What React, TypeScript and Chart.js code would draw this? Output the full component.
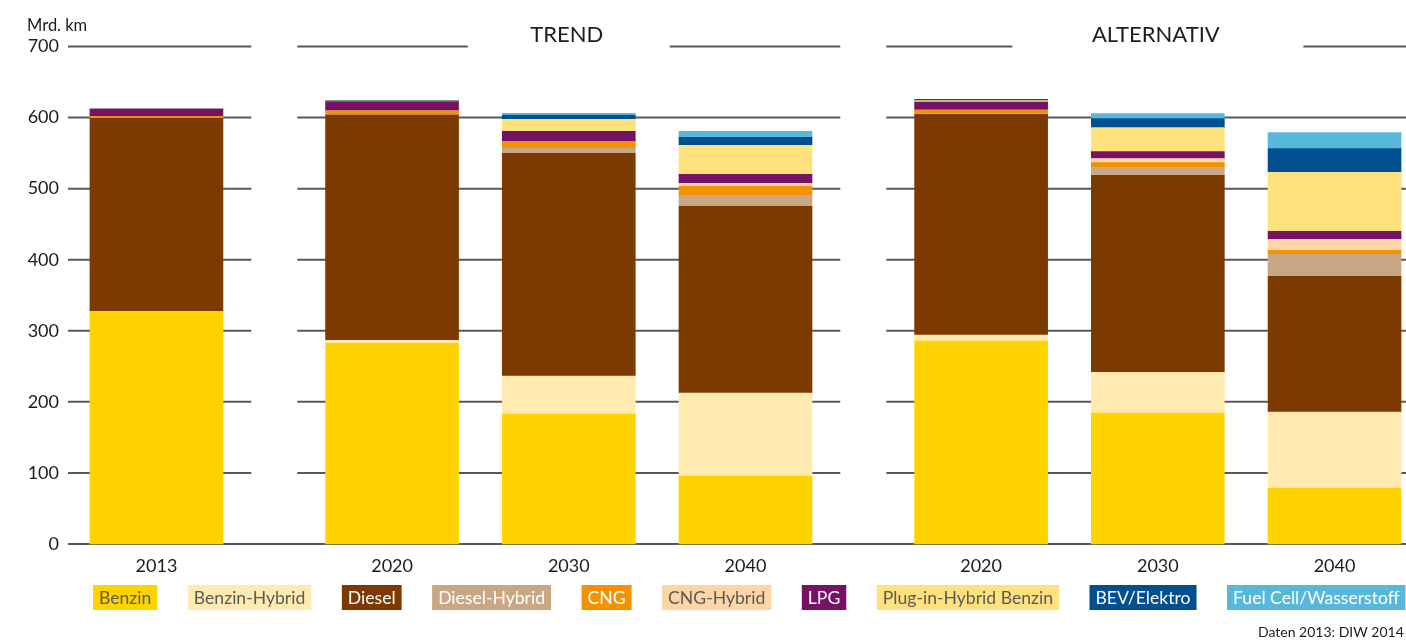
import React, { useEffect, useRef } from 'react';
import { Chart, registerables } from 'chart.js';

Chart.register(...registerables);

// ---- data ----
const categories = ['2013', '2020', '2030', '2040', '2020', '2030', '2040'];
const groupTitles = ['TREND', 'ALTERNATIV'];
const yTickValues = [0, 100, 200, 300, 400, 500, 600, 700];
const yUnit = 'Mrd. km';
const sourceNote = 'Daten 2013: DIW 2014';

const seriesLabels = [
  'Benzin',
  'Benzin-Hybrid',
  'Diesel',
  'Diesel-Hybrid',
  'CNG',
  'CNG-Hybrid',
  'LPG',
  'Plug-in-Hybrid Benzin',
  'BEV/Elektro',
  'Fuel Cell/Wasserstoff',
];

const benzin = [327.5, 282.5, 182.7, 95.6, 285.4, 184.1, 78.7];
const benzinHybrid = [0, 4.2, 53.4, 116.7, 8.4, 57.6, 106.8];
const diesel = [271.3, 316.7, 313.5, 262.9, 310.7, 276.9, 191.2];
const dieselHybrid = [0, 0.8, 7.0, 15.5, 1.4, 11.2, 30.9];
const cng = [2.8, 5.2, 9.8, 12.7, 4.7, 7.0, 5.6];
const cngHybrid = [0, 0, 0, 4.2, 0, 5.6, 15.5];
const lpg = [10.5, 13.0, 14.1, 12.7, 11.2, 9.8, 11.2];
const plugInHybrid = [0, 1.0, 16.9, 40.8, 2.0, 33.7, 82.9];
const bevElektro = [0, 1.0, 5.6, 11.2, 1.9, 12.7, 33.7];
const fuelCell = [0, 0, 2.8, 8.4, 0, 7.0, 22.5];

// ---- styles / layout ----
const seriesColors = [
  '#FFD300',
  '#FFEBAF',
  '#7C3A00',
  '#C9A785',
  '#F39200',
  '#FDD5A6',
  '#761166',
  '#FFE27E',
  '#00508F',
  '#58B8DC',
];
const legendTextColors = [
  '#5a5a5a', '#5a5a5a', '#ffffff', '#ffffff', '#ffffff',
  '#5a5a5a', '#ffffff', '#5a5a5a', '#ffffff', '#ffffff',
];
const slotIndex = [0, 4, 7, 10, 14, 17, 20];
const SLOT_COUNT = 21;
const titleSlots = [7, 17];
const titleGapHalf = [101, 145.5];
const W = 1406;
const H = 641;
const FONT = 'Lato, "Open Sans", sans-serif';
const TEXT = '#1c1c1c';
const GRID = '#585858';

const allSeries = [
  benzin, benzinHybrid, diesel, dieselHybrid, cng,
  cngHybrid, lpg, plugInHybrid, bevElektro, fuelCell,
];

const slotLabels = Array.from({ length: SLOT_COUNT }, (_, i) => {
  const k = slotIndex.indexOf(i);
  return k >= 0 ? categories[k] : '';
});

function toSlots(values: number[]) {
  const out: (number | null)[] = Array(SLOT_COUNT).fill(null);
  values.forEach((v, k) => {
    out[slotIndex[k]] = v;
  });
  return out;
}

function subtract(segs: [number, number][], gap: [number, number]) {
  const out: [number, number][] = [];
  segs.forEach(([a, b]) => {
    if (gap[1] <= a || gap[0] >= b) {
      out.push([a, b]);
    } else {
      if (gap[0] > a) out.push([a, gap[0]]);
      if (gap[1] < b) out.push([gap[1], b]);
    }
  });
  return out;
}

const decorPlugin = {
  id: 'decor',
  beforeDatasetsDraw(chart: any) {
    const ctx = chart.ctx as CanvasRenderingContext2D;
    const xs = chart.scales.x;
    const ys = chart.scales.y;
    const px = (i: number) => xs.getPixelForValue(i);
    const gapA = (px(slotIndex[0]) + px(slotIndex[1])) / 2;
    const gapB = (px(slotIndex[3]) + px(slotIndex[4])) / 2;
    const half = 23;
    ctx.save();
    ctx.strokeStyle = GRID;
    ctx.lineWidth = 2;
    yTickValues.forEach((v) => {
      const y = ys.getPixelForValue(v);
      let segs: [number, number][] = [[68, W]];
      if (v !== 0) {
        segs = subtract(segs, [gapA - half, gapA + half]);
        segs = subtract(segs, [gapB - half, gapB + half]);
      }
      if (v === yTickValues[yTickValues.length - 1]) {
        titleSlots.forEach((s, i) => {
          const c = px(s);
          segs = subtract(segs, [c - titleGapHalf[i], c + titleGapHalf[i]]);
        });
      }
      segs.forEach(([a, b]) => {
        ctx.beginPath();
        ctx.moveTo(a, y);
        ctx.lineTo(b, y);
        ctx.stroke();
      });
    });
    ctx.restore();
  },
  afterDraw(chart: any) {
    const ctx = chart.ctx as CanvasRenderingContext2D;
    const xs = chart.scales.x;
    ctx.save();
    // titles
    ctx.fillStyle = TEXT;
    ctx.font = `22px ${FONT}`;
    ctx.textAlign = 'center';
    ctx.textBaseline = 'alphabetic';
    titleSlots.forEach((s, i) => {
      ctx.fillText(groupTitles[i], xs.getPixelForValue(s) - 2, 42);
    });
    // unit
    ctx.font = `16.5px ${FONT}`;
    ctx.textAlign = 'left';
    ctx.fillText(yUnit, 27, 31);
    // legend
    ctx.font = `17.6px ${FONT}`;
    ctx.textBaseline = 'middle';
    let x = 93;
    const top = 585;
    const h = 25;
    const pad = 6;
    chart.data.datasets.forEach((ds: any, i: number) => {
      const tw = ctx.measureText(ds.label).width;
      const bw = tw + pad * 2;
      ctx.fillStyle = seriesColors[i];
      ctx.fillRect(x, top, bw, h);
      ctx.fillStyle = legendTextColors[i];
      ctx.textAlign = 'left';
      ctx.fillText(ds.label, x + pad, top + h / 2 + 1);
      x += bw + 30.5;
    });
    // source
    ctx.font = `14px ${FONT}`;
    ctx.fillStyle = TEXT;
    ctx.textBaseline = 'alphabetic';
    ctx.textAlign = 'left';
    ctx.fillText(sourceNote, 1258, 636.5);
    ctx.restore();
  },
};

export default function App() {
  const ref = useRef<HTMLCanvasElement>(null);

  useEffect(() => {
    if (!ref.current) return;
    const chart = new Chart(ref.current, {
      type: 'bar',
      data: {
        labels: slotLabels,
        datasets: allSeries.map((vals, i) => ({
          label: seriesLabels[i],
          data: toSlots(vals),
          backgroundColor: seriesColors[i],
          borderWidth: 0,
          barThickness: 133,
          clip: false as any,
        })),
      },
      options: {
        responsive: false,
        animation: false,
        layout: { padding: { left: 0, right: 42, top: 46.5, bottom: 0 } },
        plugins: {
          legend: { display: false },
          tooltip: { enabled: false },
        },
        scales: {
          x: {
            stacked: true,
            grid: { display: false, drawTicks: false },
            border: { display: false },
            ticks: {
              autoSkip: false,
              maxRotation: 0,
              minRotation: 0,
              padding: 11,
              color: TEXT,
              font: { family: FONT, size: 18 },
            },
            afterFit: (scale: any) => {
              scale.height = 97;
              scale.paddingLeft = 0;
              scale.paddingRight = 0;
            },
          },
          y: {
            stacked: true,
            min: 0,
            max: 700,
            grid: { display: false, drawTicks: false },
            border: { display: false },
            ticks: {
              stepSize: 100,
              padding: 68,
              color: TEXT,
              font: { family: FONT, size: 18 },
            },
            afterFit: (scale: any) => {
              scale.width = 127;
              scale.paddingTop = 0;
              scale.paddingBottom = 0;
            },
          },
        },
      },
      plugins: [decorPlugin],
    });
    return () => chart.destroy();
  }, []);

  return (
    <div
      style={{
        position: 'fixed',
        left: 0,
        top: 0,
        width: W,
        height: H,
        background: '#ffffff',
        overflow: 'hidden',
      }}
    >
      <canvas ref={ref} width={W} height={H} style={{ display: 'block' }} />
    </div>
  );
}
